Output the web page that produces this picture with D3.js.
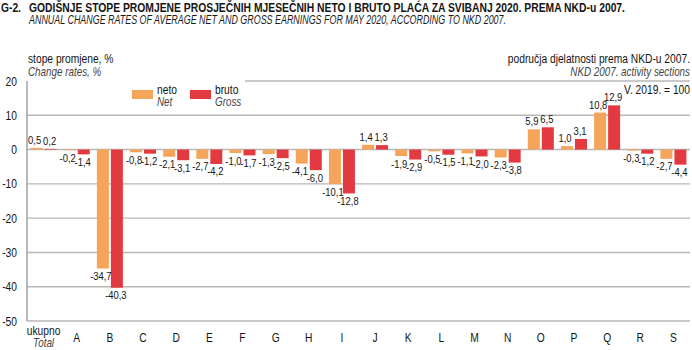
<!DOCTYPE html>
<html>
<head>
<meta charset="utf-8">
<script src="https://cdn.jsdelivr.net/npm/d3@7"></script>
<style>
    body { margin: 0; background: #fff; }
    svg text { font-family: "Liberation Sans", Arial, sans-serif; fill: #141414; }
    .it { font-style: italic; fill: #444; }
</style>
</head>
<body>
<div id="chart"></div>
<script>

// categories (NKD 2007 sections)
let categories = ["ukupno", "A", "B", "C", "D", "E", "F", "G", "H", "I", "J", "K", "L", "M", "N", "O", "P", "Q", "R", "S"];
let netValues = [0.5, -0.2, -34.7, -0.8, -2.1, -2.7, -1.0, -1.3, -4.1, -10.1, 1.4, -1.9, -0.5, -1.1, -2.3, 5.9, 1.0, 10.8, -0.3, -2.7];
let grossValues = [0.2, -1.4, -40.3, -1.2, -3.1, -4.2, -1.7, -2.5, -6.0, -12.8, 1.3, -2.9, -1.5, -2.0, -3.8, 6.5, 3.1, 12.9, -1.2, -4.4];
let yTicks = [20, 10, 0, -10, -20, -30, -40, -50];

let width = 692, height = 350;
let margin = {top: 81, right: 2, bottom: 29, left: 27};
let SX = 0.82; // condensed look

let svg = d3.select("#chart").append("svg")
    .attr("width", width)
    .attr("height", height);

// text helper, squeezed horizontally
function label(parent, x, y, str, size) {
    return parent.append("text")
        .attr("transform", `translate(${x},${y}) scale(${SX},1)`)
        .attr("font-size", size)
        .text(str);
}

// title
label(svg, 1, 12, "G-2.", 12.5).attr("font-weight", "bold");
label(svg, 29, 12, "GODIŠNJE STOPE PROMJENE PROSJEČNIH MJESEČNIH NETO I BRUTO PLAĆA ZA SVIBANJ 2020. PREMA NKD-u 2007.", 12.5)
    .attr("font-weight", "bold")
    .attr("textLength", 596 / SX).attr("lengthAdjust", "spacingAndGlyphs");
label(svg, 29, 24, "ANNUAL CHANGE RATES OF AVERAGE NET AND GROSS EARNINGS FOR MAY 2020, ACCORDING TO NKD 2007.", 12)
    .attr("class", "it").style("fill", "#1a1a1a")
    .attr("textLength", 477 / SX).attr("lengthAdjust", "spacingAndGlyphs");

// scales
let x = d3.scaleBand()
    .domain(categories)
    .range([margin.left, width - margin.right])
    .padding(0);

let y = d3.scaleLinear()
    .domain([-50, 20])
    .range([height - margin.bottom, margin.top]);

let barW = 12, gap = 1;

// gridlines (top one starts right of the legend box)
svg.append("g")
    .selectAll("line")
    .data(yTicks)
    .enter().append("line")
    .attr("x1", d => d === 20 ? 245 : margin.left)
    .attr("x2", width - margin.right)
    .attr("y1", d => y(d))
    .attr("y2", d => y(d))
    .attr("stroke", "#b8b8b8")
    .attr("stroke-width", 1.4);

// y axis line
svg.append("line")
    .attr("x1", margin.left).attr("x2", margin.left)
    .attr("y1", y(20)).attr("y2", y(-50))
    .attr("stroke", "#9a9a9a")
    .attr("stroke-width", 1.4);

// y tick labels
let yLab = svg.append("g");
yTicks.forEach(t => {
    label(yLab, 17, y(t) + 4.5, t, 12.5).attr("text-anchor", "end");
});

// bars
let data = categories.map((c, i) => ({cat: c, net: netValues[i], gross: grossValues[i]}));

let groups = svg.append("g")
    .selectAll("g")
    .data(data)
    .enter().append("g")
    .attr("transform", d => `translate(${x(d.cat) + x.bandwidth() / 2},0)`);

groups.append("rect")
    .attr("x", -gap - barW)
    .attr("width", barW)
    .attr("y", d => y(Math.max(0, d.net)))
    .attr("height", d => Math.abs(y(d.net) - y(0)))
    .attr("fill", "#f5a55a");

groups.append("rect")
    .attr("x", gap)
    .attr("width", barW)
    .attr("y", d => y(Math.max(0, d.gross)))
    .attr("height", d => Math.abs(y(d.gross) - y(0)))
    .attr("fill", "#e23a40");

let fmt = v => d3.format(".1f")(v).replace(".", ",").replace("−", "-");

groups.each(function(d) {
    let g = d3.select(this);
    label(g, -gap - barW / 2 - 2, d.net >= 0 ? y(d.net) - 4 : y(d.net) + 11.5, fmt(d.net), 11.5)
        .attr("text-anchor", "middle");
    label(g, gap + barW / 2 - 1, d.gross >= 0 ? y(d.gross) - 4 : y(d.gross) + 11.5, fmt(d.gross), 11.5)
        .attr("text-anchor", "middle");

    // x labels
    if (d.cat === "ukupno") {
        label(g, 0, 335, "ukupno", 12.5).attr("text-anchor", "middle");
        label(g, 0, 347, "Total", 12).attr("class", "it").attr("text-anchor", "middle");
    } else {
        label(g, 0, 342, d.cat, 12.5).attr("text-anchor", "middle");
    }
});

// axis titles
label(svg, 28, 63, "stope promjene, %", 12.5);
label(svg, 28, 76, "Change rates, %", 12).attr("class", "it");

label(svg, 690, 63, "područja djelatnosti prema NKD-u 2007.", 12.5).attr("text-anchor", "end");
label(svg, 690, 76, "NKD 2007. activity sections", 12).attr("class", "it").attr("text-anchor", "end");
label(svg, 690, 94, "V. 2019. = 100", 12.5).attr("text-anchor", "end");

// legend
let legendItems = [
    {name: "neto", en: "Net", color: "#f5a55a", x: 132},
    {name: "bruto", en: "Gross", color: "#e23a40", x: 190}
];
let legend = svg.append("g").selectAll("g")
    .data(legendItems)
    .enter().append("g")
    .attr("transform", d => `translate(${d.x},0)`);
legend.append("rect").attr("y", 90).attr("width", 21).attr("height", 9).attr("fill", d => d.color);
legend.each(function(d) {
    let g = d3.select(this);
    label(g, 25, 94, d.name, 12.5);
    label(g, 25, 106, d.en, 12).attr("class", "it");
});

</script>
</body>
</html>
